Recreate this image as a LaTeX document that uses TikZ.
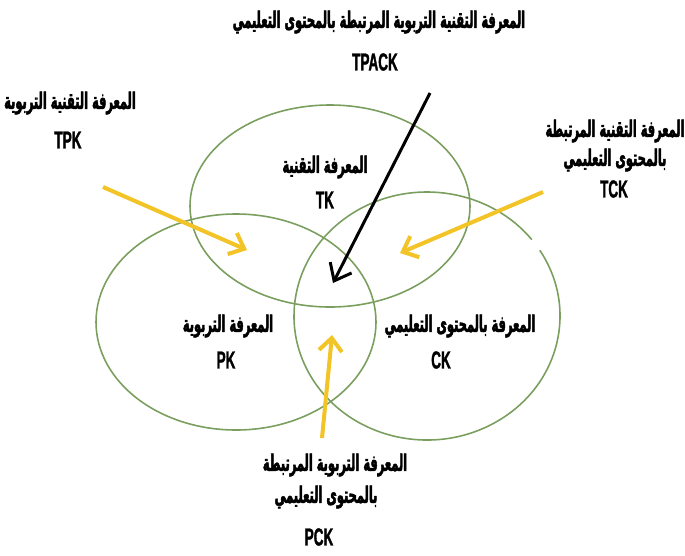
\documentclass[tikz,border=0pt]{standalone}
\usepackage{fontspec}
\setmainfont{Liberation Sans}[FakeStretch=0.55,FakeBold=1.2]
\newfontfamily\arabicfont[Script=Arabic,FakeStretch=0.5,FakeBold=2]{DejaVu Sans}
\TeXXeTstate=1
\usetikzlibrary{arrows.meta}
\definecolor{ringgreen}{RGB}{122,158,94}
\definecolor{arrowgold}{RGB}{242,196,40}
\newcommand{\artxt}[1]{{\arabicfont\bfseries\beginR #1\endR}}
\tikzset{
  ring/.style={draw=ringgreen, line width=0.9pt},
  goldarrow/.style={draw=arrowgold, line width=2.3pt, -{Straight Barb[length=2.6mm,width=4.6mm,line width=2.3pt]}},
  blackarrow/.style={draw=black, line width=1.7pt, -{Straight Barb[length=3mm,width=4.8mm,line width=1.7pt]}},
  artext/.style={inner sep=0pt, font=\fontsize{13}{15}\selectfont},
  entext/.style={inner sep=0pt, font=\fontsize{14}{16}\selectfont\bfseries}
}
\begin{document}
\begin{tikzpicture}[x=0.02cm, y=-0.02cm]
  \useasboundingbox (0,0) rectangle (685,555);
  % the three rings
  \draw[ring] (330,206) ellipse [x radius=140, y radius=101];
  \draw[ring] (236,322) ellipse [x radius=140, y radius=108];
  \draw[ring] (427,316) ++(-32:133 and 124) arc [start angle=-32, end angle=322, x radius=133, y radius=124];
  % labels inside the rings
  \node[artext] (tkar) at (325,167) {\artxt{المعرفة التقنية}};
  \node[entext] (tk) at (325,200) {TK};
  \node[artext] (pkar) at (228,326) {\artxt{المعرفة التربوية}};
  \node[entext] (pk) at (226,360) {PK};
  \node[artext] (ckar) at (460,326) {\artxt{المعرفة بالمحتوى التعليمي}};
  \node[entext] (ck) at (441,360) {CK};
  % labels outside
  \node[artext] (tpackar) at (379,22) {\artxt{المعرفة التقنية التربوية المرتبطة بالمحتوى التعليمي}};
  \node[entext] (tpack) at (375,62) {TPACK};
  \node[artext] (tpkar) at (70,103) {\artxt{المعرفة التقنية التربوية}};
  \node[entext] (tpk) at (68,140) {TPK};
  \node[artext] (tckar1) at (615,131) {\artxt{المعرفة التقنية المرتبطة}};
  \node[artext] (tckar2) at (615,160) {\artxt{بالمحتوى التعليمي}};
  \node[entext] (tck) at (614,189) {TCK};
  \node[artext] (pckar1) at (335,465) {\artxt{المعرفة التربوية المرتبطة}};
  \node[artext] (pckar2) at (326,497) {\artxt{بالمحتوى التعليمي}};
  \node[entext] (pck) at (319,537) {PCK};
  % arrow ends
  \coordinate (tpkfrom) at (103,187);
  \coordinate (tpkto) at (247,250);
  \coordinate (tckfrom) at (543,192);
  \coordinate (tckto) at (400,253);
  \coordinate (pckfrom) at (322,438);
  \coordinate (pckto) at (332,335);
  \coordinate (tpackfrom) at (430,93);
  \coordinate (tpackto) at (333,283);
  % arrows
  \draw[goldarrow] (tpkfrom) -- (tpkto);
  \draw[goldarrow] (tckfrom) -- (tckto);
  \draw[goldarrow] (pckfrom) -- (pckto);
  \draw[blackarrow] (tpackfrom) -- (tpackto);
\end{tikzpicture}
\end{document}
